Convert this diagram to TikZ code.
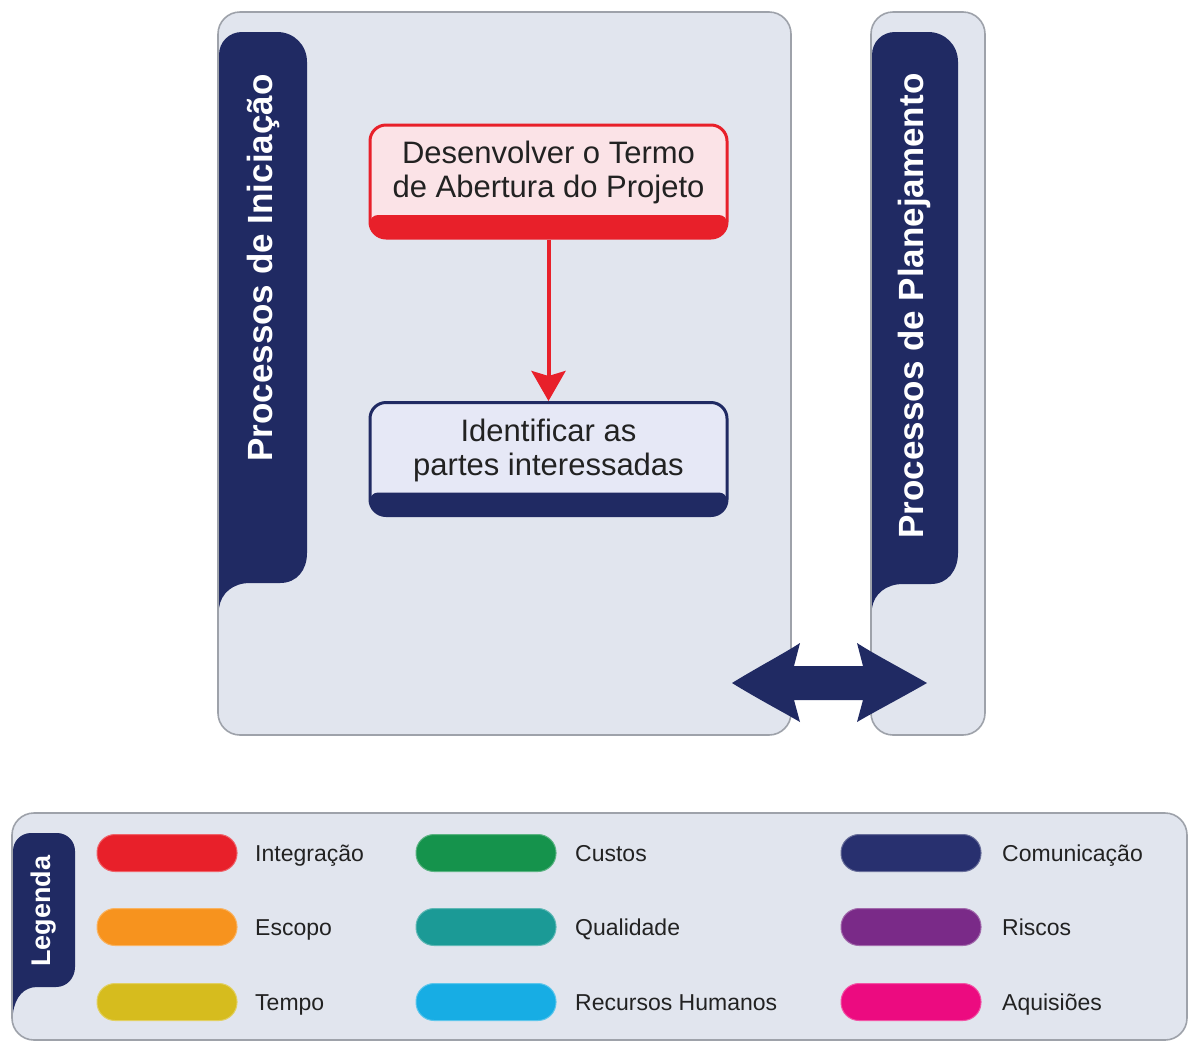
\documentclass[tikz,border=0pt]{standalone}
\usepackage{fontspec}
\setmainfont{Liberation Sans}
\usetikzlibrary{arrows.meta}

\definecolor{navy}{HTML}{202A63}
\definecolor{panelfill}{HTML}{E1E5EE}
\definecolor{panelline}{HTML}{9EA2AA}
\definecolor{intred}{HTML}{E8202A}
\definecolor{pinkfill}{HTML}{FBE3E7}
\definecolor{lilacfill}{HTML}{E6E8F6}
\definecolor{txt}{HTML}{222222}
\definecolor{cOrange}{HTML}{F7931E}
\definecolor{cYellow}{HTML}{D6BC1E}
\definecolor{cGreen}{HTML}{15934C}
\definecolor{cTeal}{HTML}{1B9A96}
\definecolor{cSky}{HTML}{17ADE4}
\definecolor{cNavy}{HTML}{28306F}
\definecolor{cPurple}{HTML}{7A2A88}
\definecolor{cMagenta}{HTML}{EC0B80}

\tikzset{
  panel/.style={draw=panelline, line width=1.6pt, fill=panelfill, rounded corners=22pt},
  tabtitle/.style={text=white, rotate=90, inner sep=0pt,
    font=\fontsize{35}{40}\selectfont\bfseries},
  procbox/.style n args={2}{draw=#1, fill=#2, line width=3pt,
    rounded corners=16pt, minimum width=357pt, minimum height=113pt, inner sep=0pt,
    path picture={\fill[#1, rounded corners=8pt]
      ([yshift=23pt]path picture bounding box.south west)
      rectangle (path picture bounding box.south east);}},
  boxtext/.style={text=txt, align=center, inner sep=0pt,
    font=\fontsize{31}{34}\selectfont},
  swatch/.style={fill=#1, draw=#1!70!white, line width=1pt, rounded corners=18pt,
    minimum width=140pt, minimum height=37pt, inner sep=0pt},
  leglabel/.style={text=txt, anchor=base west, inner sep=0pt,
    font=\fontsize{23}{26}\selectfont},
}

\begin{document}
\begin{tikzpicture}[x=1pt, y=-1pt]
\useasboundingbox[fill=white] (0,0) rectangle (1193,1045);

% --- initiation panel with its title tab
\path[panel] (218,12) rectangle (791,735);
\fill[navy] (219,608) -- (219,55)
  .. controls (219,42) and (229,32) .. (242,32) -- (277,32)
  .. controls (294,32) and (307,45) .. (307,62) -- (307,553)
  .. controls (307,570) and (297,583) .. (280,583) -- (250,583)
  .. controls (233,583) and (221,593) .. (219,608) -- cycle;
\node[tabtitle] (inititle) at (263,268) {Processos de Iniciação};

% --- planning panel with its title tab
\path[panel] (871,12) rectangle (985,735);
\fill[navy] (872,608) -- (872,55)
  .. controls (872,42) and (882,32) .. (895,32) -- (928,32)
  .. controls (945,32) and (958,45) .. (958,62) -- (958,553)
  .. controls (958,570) and (948,584) .. (931,584) -- (903,584)
  .. controls (886,584) and (874,594) .. (872,608) -- cycle;
\node[tabtitle] (plantitle) at (914,306) {Processos de Planejamento};

% --- process boxes
\node[procbox={intred}{pinkfill}] (termo) at (548.5,181.5) {};
\node[boxtext] (termotxt) at ([yshift=9pt]termo.center)
  {Desenvolver o Termo\\de Abertura do Projeto};
\node[procbox={navy}{lilacfill}] (partes) at (548.5,459) {};
\node[boxtext] (partestxt) at ([yshift=9pt]partes.center)
  {Identificar as\\partes interessadas};
\draw[intred, line width=4pt, -{Stealth[length=30pt, width=34pt, inset=5pt]}]
  (termo.south) -- (partes.north);

% --- two-way link between the panels
\fill[navy] (732,683)
  .. controls (758,667) and (783,654) .. (800,643) -- (794,666) -- (863,666) -- (857,643)
  .. controls (874,654) and (899,667) .. (927,683)
  .. controls (899,699) and (874,712) .. (857,722) -- (863,700) -- (794,700) -- (800,722)
  .. controls (783,712) and (758,699) .. (732,683) -- cycle;

% --- legend
\path[panel] (12,813) rectangle (1187,1040);
\fill[navy] (13,1013) -- (13,851)
  .. controls (13,841) and (21,833) .. (31,833) -- (57,833)
  .. controls (67,833) and (75,841) .. (75,851) -- (75,967)
  .. controls (75,978) and (67,987) .. (56,987) -- (37,987)
  .. controls (24,987) and (15,997) .. (13,1013) -- cycle;
\node[tabtitle, font=\fontsize{27}{30}\selectfont\bfseries] (legtitle) at (44,911) {Legenda};

\node[swatch=intred]   (s1) at (167,853) {};
\node[swatch=cOrange]  (s2) at (167,927) {};
\node[swatch=cYellow]  (s3) at (167,1002) {};
\node[swatch=cGreen]   (s4) at (486,853) {};
\node[swatch=cTeal]    (s5) at (486,927) {};
\node[swatch=cSky]     (s6) at (486,1002) {};
\node[swatch=cNavy]    (s7) at (911,853) {};
\node[swatch=cPurple]  (s8) at (911,927) {};
\node[swatch=cMagenta] (s9) at (911,1002) {};

\node[leglabel] (l1) at (255,861) {Integração};
\node[leglabel] (l2) at (255,935) {Escopo};
\node[leglabel] (l3) at (255,1010) {Tempo};
\node[leglabel] (l4) at (575,861) {Custos};
\node[leglabel] (l5) at (575,935) {Qualidade};
\node[leglabel] (l6) at (575,1010) {Recursos Humanos};
\node[leglabel] (l7) at (1002,861) {Comunicação};
\node[leglabel] (l8) at (1002,935) {Riscos};
\node[leglabel] (l9) at (1002,1010) {Aquisiões};
\end{tikzpicture}
\end{document}
